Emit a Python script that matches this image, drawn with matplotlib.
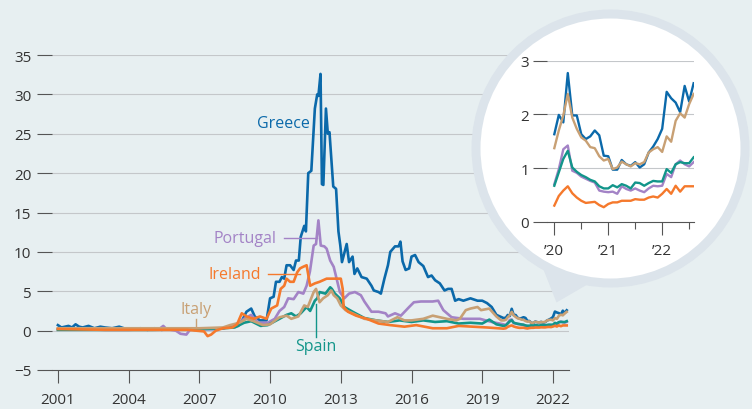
import matplotlib.pyplot as plt
from matplotlib.patches import Circle, Polygon

plt.rcParams['font.family'] = ['Open Sans', 'DejaVu Sans']

# spreads over Germany, percentage points (year, value) up to end 2019
greece = [(2001.0, 0.7), (2001.15, 0.4), (2001.3, 0.5), (2001.45, 0.6), (2001.6, 0.4), (2001.75, 0.8),
          (2001.9, 0.5), (2002.05, 0.4), (2002.3, 0.6), (2002.55, 0.3), (2002.8, 0.5), (2003.0, 0.4),
          (2003.3, 0.3), (2003.6, 0.5), (2003.9, 0.2), (2004.2, 0.2), (2004.5, 0.3), (2004.8, 0.1),
          (2005.1, 0.3), (2005.4, 0.1), (2005.7, 0.2), (2006.0, 0.1), (2006.4, 0.2), (2006.8, 0.1),
          (2007.2, 0.2), (2007.6, 0.2), (2008.0, 0.3), (2008.3, 0.5), (2008.65, 0.6), (2008.85, 1.5),
          (2009.0, 2.4), (2009.2, 2.8), (2009.35, 1.8), (2009.57, 1.3), (2009.85, 1.3), (2010.0, 4.1),
          (2010.15, 4.3), (2010.25, 6.2), (2010.4, 6.2), (2010.5, 6.8), (2010.6, 6.6), (2010.7, 8.3),
          (2010.85, 8.3), (2011.0, 7.7), (2011.1, 8.9), (2011.22, 8.9), (2011.3, 11.9), (2011.45, 13.3),
          (2011.52, 12.6), (2011.62, 20.0), (2011.75, 20.3), (2011.9, 28.2), (2012.0, 30.0), (2012.05, 29.8),
          (2012.14, 32.6), (2012.2, 18.6), (2012.26, 18.5), (2012.37, 28.2), (2012.45, 25.0), (2012.52, 25.2),
          (2012.68, 18.3), (2012.8, 18.0), (2012.9, 12.6), (2012.98, 10.8), (2013.05, 8.7), (2013.25, 11.0),
          (2013.35, 8.7), (2013.5, 9.4), (2013.58, 7.2), (2013.7, 7.9), (2013.88, 6.8), (2014.1, 6.6),
          (2014.3, 5.7), (2014.4, 5.1), (2014.6, 4.9), (2014.7, 4.7), (2014.85, 6.6), (2015.0, 8.3),
          (2015.1, 10.0), (2015.3, 10.7), (2015.45, 10.7), (2015.53, 11.3), (2015.62, 8.8), (2015.75, 7.7),
          (2015.9, 7.9), (2016.0, 9.4), (2016.15, 9.6), (2016.3, 8.7), (2016.5, 8.2), (2016.7, 6.8),
          (2016.85, 7.0), (2017.0, 6.4), (2017.2, 6.0), (2017.4, 5.1), (2017.55, 5.3), (2017.7, 5.3),
          (2017.85, 3.8), (2018.0, 4.0), (2018.2, 3.8), (2018.5, 4.1), (2018.8, 3.8), (2019.0, 3.8),
          (2019.2, 3.5), (2019.4, 3.0), (2019.6, 2.0), (2019.75, 1.8), (2019.9, 1.6)]
portugal = [(2001.0, 0.2), (2002.0, 0.2), (2003.0, 0.1), (2004.0, 0.1), (2005.0, 0.2), (2005.3, 0.2),
            (2005.47, 0.6), (2005.6, 0.2), (2006.0, 0.0), (2006.2, -0.4), (2006.45, -0.5), (2006.6, 0.1),
            (2007.0, 0.2), (2007.5, 0.2), (2008.0, 0.3), (2008.5, 0.6), (2008.9, 1.5), (2009.2, 2.0),
            (2009.5, 1.0), (2009.9, 1.0), (2010.2, 1.5), (2010.4, 2.5), (2010.6, 3.0), (2010.77, 4.1),
            (2011.0, 4.0), (2011.2, 4.9), (2011.41, 4.7), (2011.55, 5.7), (2011.69, 7.5), (2011.85, 10.8),
            (2011.95, 11.0), (2012.05, 14.0), (2012.15, 10.8), (2012.3, 10.7), (2012.4, 10.4), (2012.55, 8.9),
            (2012.7, 8.1), (2012.96, 4.9), (2013.15, 4.1), (2013.35, 4.7), (2013.6, 4.9), (2013.85, 4.5),
            (2014.0, 3.7), (2014.3, 2.4), (2014.6, 2.4), (2014.9, 2.2), (2015.0, 1.8), (2015.3, 2.2),
            (2015.55, 1.9), (2015.9, 3.0), (2016.1, 3.6), (2016.4, 3.7), (2016.9, 3.7), (2017.13, 3.8),
            (2017.35, 2.6), (2017.7, 1.7), (2018.2, 1.5), (2018.9, 1.5), (2019.4, 1.1), (2019.9, 0.8)]
ireland = [(2001.0, 0.2), (2003.0, 0.1), (2004.5, 0.1), (2005.5, 0.1), (2006.5, 0.1), (2007.2, -0.1),
           (2007.35, -0.7), (2007.5, -0.5), (2007.7, 0.0), (2008.0, 0.3), (2008.4, 0.4), (2008.6, 0.8),
           (2008.8, 2.2), (2009.0, 1.8), (2009.3, 1.5), (2009.57, 1.8), (2009.85, 1.5), (2010.05, 2.8),
           (2010.3, 3.2), (2010.45, 5.3), (2010.6, 5.7), (2010.7, 6.6), (2010.85, 6.2), (2011.0, 6.2),
           (2011.15, 7.4), (2011.27, 7.9), (2011.4, 8.1), (2011.55, 8.3), (2011.7, 5.7), (2011.9, 6.0),
           (2012.1, 6.2), (2012.4, 6.6), (2012.7, 6.6), (2013.0, 6.6), (2013.08, 5.3), (2013.12, 3.0),
           (2013.3, 2.4), (2013.65, 1.9), (2014.1, 1.5), (2014.6, 0.9), (2015.1, 0.7), (2015.7, 0.5),
           (2016.2, 0.7), (2016.9, 0.3), (2017.5, 0.3), (2018.0, 0.6), (2018.6, 0.5), (2019.2, 0.4),
           (2019.9, 0.25)]
italy = [(2001.0, 0.3), (2003.0, 0.3), (2005.0, 0.3), (2007.0, 0.3), (2008.0, 0.4), (2008.3, 0.7),
         (2008.7, 1.0), (2009.0, 1.5), (2009.3, 1.2), (2009.7, 0.7), (2010.0, 0.8), (2010.4, 1.7),
         (2010.7, 1.9), (2010.9, 1.5), (2011.2, 1.8), (2011.45, 3.2), (2011.6, 3.0), (2011.85, 4.9),
         (2011.95, 5.3), (2012.1, 3.6), (2012.25, 4.1), (2012.45, 4.5), (2012.6, 5.1), (2012.7, 4.5),
         (2012.85, 4.1), (2013.0, 3.2), (2013.2, 2.6), (2013.5, 2.2), (2014.0, 1.5), (2014.5, 1.3),
         (2015.0, 1.1), (2015.4, 1.7), (2015.7, 1.3), (2016.0, 1.3), (2016.5, 1.5), (2016.9, 1.9),
         (2017.5, 1.5), (2017.9, 1.3), (2018.05, 1.5), (2018.3, 2.6), (2018.5, 2.8), (2018.8, 3.0),
         (2018.95, 2.6), (2019.3, 2.8), (2019.6, 1.8), (2019.8, 1.3), (2019.92, 1.3)]
spain = [(2001.0, 0.1), (2003.0, 0.1), (2005.0, 0.1), (2007.0, 0.2), (2008.0, 0.3), (2008.5, 0.4),
         (2008.9, 1.0), (2009.2, 1.2), (2009.6, 0.6), (2009.9, 0.7), (2010.4, 1.5), (2010.7, 2.0),
         (2010.9, 2.2), (2011.1, 1.8), (2011.3, 2.2), (2011.55, 3.0), (2011.7, 2.5), (2011.9, 3.8),
         (2012.0, 4.1), (2012.1, 4.9), (2012.35, 4.7), (2012.55, 5.5), (2012.62, 5.3), (2012.75, 4.7),
         (2012.96, 4.1), (2013.15, 3.0), (2013.5, 2.4), (2014.0, 1.6), (2014.5, 1.3), (2015.0, 1.1),
         (2015.5, 1.3), (2016.0, 1.1), (2016.5, 1.3), (2017.0, 1.1), (2017.5, 1.2), (2018.0, 0.9),
         (2018.5, 1.0), (2019.0, 0.9), (2019.3, 1.4), (2019.6, 0.8), (2019.9, 0.6)]

# monthly values Jan 2020 - Aug 2022 (inset, also end of main chart)
greece_m = [1.63, 1.99, 1.85, 2.77, 1.98, 1.98, 1.63, 1.54, 1.59, 1.70, 1.61, 1.23, 1.22, 0.97, 0.97, 1.15,
            1.07, 1.04, 1.11, 1.01, 1.07, 1.29, 1.40, 1.54, 1.73, 2.42, 2.30, 2.22, 2.04, 2.53, 2.24, 2.58]
italy_m = [1.37, 1.70, 1.98, 2.38, 1.94, 1.73, 1.57, 1.51, 1.39, 1.37, 1.22, 1.14, 1.17, 0.98, 1.01, 1.12,
           1.07, 1.03, 1.09, 1.07, 1.11, 1.29, 1.35, 1.39, 1.30, 1.59, 1.49, 1.88, 2.02, 1.94, 2.19, 2.38]
portugal_m = [0.70, 0.98, 1.35, 1.42, 0.95, 0.91, 0.84, 0.80, 0.76, 0.73, 0.58, 0.56, 0.55, 0.56, 0.52, 0.66,
              0.61, 0.58, 0.62, 0.58, 0.55, 0.62, 0.67, 0.66, 0.67, 0.89, 0.83, 1.07, 1.14, 1.07, 1.03, 1.11]
spain_m = [0.67, 0.92, 1.17, 1.32, 1.01, 0.93, 0.87, 0.83, 0.78, 0.75, 0.66, 0.62, 0.62, 0.68, 0.64, 0.70,
           0.67, 0.62, 0.73, 0.72, 0.67, 0.72, 0.76, 0.75, 0.75, 0.98, 0.91, 1.07, 1.11, 1.09, 1.09, 1.20]
ireland_m = [0.30, 0.48, 0.58, 0.66, 0.53, 0.45, 0.39, 0.35, 0.36, 0.37, 0.31, 0.27, 0.33, 0.36, 0.36, 0.39,
             0.39, 0.39, 0.42, 0.41, 0.41, 0.45, 0.47, 0.45, 0.52, 0.61, 0.52, 0.67, 0.56, 0.66, 0.66, 0.66]
months = [2020 + i / 12 for i in range(len(greece_m))]

main_years = [2001, 2004, 2007, 2010, 2013, 2016, 2019, 2022]
inset_years = [2020, 2021, 2022]
inset_labels = ['\u201920', '\u201921', '\u201922']

c_gr = '#0b69aa'
c_pt = '#a383c6'
c_ie = '#f5792c'
c_it = '#c8a074'
c_es = '#12958a'
bg = '#e7eff1'
ring = '#dce4eb'
grid = '#c4c7ca'
dark = '#555555'

W, H = 752, 410
fig = plt.figure(figsize=(W / 100, H / 100), dpi=100, facecolor=bg)


def px(x0, y0, x1, y1):
    return [x0 / W, 1 - y1 / H, (x1 - x0) / W, (y1 - y0) / H]


# main chart
ax = fig.add_axes(px(52, 56, 569, 371), zorder=0)
ax.set_facecolor(bg)
series = [(greece, greece_m, c_gr), (portugal, portugal_m, c_pt), (spain, spain_m, c_es),
          (italy, italy_m, c_it), (ireland, ireland_m, c_ie)]
for early, monthly, col in series:
    t = [p[0] for p in early] + months
    v = [p[1] for p in early] + monthly
    ax.plot(t, v, color=col, lw=1.9, solid_joinstyle='round')

ax.set_xlim(2000.75, 2022.68)
ax.set_ylim(-5, 35)
ax.set_yticks(range(-5, 36, 5))
ax.set_xticks(main_years)
for y in range(0, 36, 5):
    ax.axhline(y, color=grid, lw=0.8, zorder=0)
for s in ['top', 'right', 'left']:
    ax.spines[s].set_visible(False)
ax.spines['bottom'].set_position(('data', -5))
ax.spines['bottom'].set_color(dark)
ax.spines['bottom'].set_linewidth(0.8)
ax.tick_params(axis='y', length=11, width=0.8, color=dark, pad=4, labelsize=11, labelcolor='#333333')
ax.tick_params(axis='x', length=9.5, width=0.8, color=dark, pad=6, labelsize=11, labelcolor='#333333')

ax.text(2010.55, 26.4, 'Greece', color=c_gr, fontsize=11.5, ha='center', va='center')
ax.text(2010.29, 11.7, 'Portugal', color=c_pt, fontsize=11.5, ha='right', va='center')
ax.plot([2010.6, 2012.0], [11.7, 11.7], color=c_pt, lw=1)
ax.text(2009.61, 7.2, 'Ireland', color=c_ie, fontsize=11.5, ha='right', va='center')
ax.plot([2009.9, 2011.25], [7.2, 7.2], color=c_ie, lw=1)
ax.text(2006.85, 2.8, 'Italy', color=c_it, fontsize=11.5, ha='center', va='center')
ax.plot([2006.85, 2006.85], [1.5, 0.5], color=c_it, lw=1)
ax.text(2011.95, -1.9, 'Spain', color=c_es, fontsize=11.5, ha='center', va='center')
ax.plot([2011.95, 2011.95], [-0.8, 3.4], color=c_es, lw=1)

# bubble behind the inset
ov = fig.add_axes([0, 0, 1, 1], zorder=1)
ov.set_xlim(0, W)
ov.set_ylim(H, 0)
ov.axis('off')
ov.add_patch(Polygon([(540, 262), (556.5, 303.5), (590, 284)], closed=True, color=ring, lw=0))
ov.add_patch(Circle((610.5, 149.5), 139, color=ring, lw=0))
ov.add_patch(Circle((610.5, 149.5), 130, color='white', lw=0))

# inset
ins = fig.add_axes(px(547.3, 61.7, 694, 222.7), zorder=2)
ins.patch.set_visible(False)
for name, col in [('greece', c_gr), ('portugal', c_pt), ('spain', c_es), ('italy', c_it), ('ireland', c_ie)]:
    ins.plot(months, globals()[name + '_m'], color=col, lw=1.7, solid_joinstyle='round')
ins.set_xlim(2019.87, 2022.59)
ins.set_ylim(0, 3)
ins.set_yticks([0, 1, 2, 3])
ins.set_xticks(inset_years)
ins.set_xticklabels(inset_labels)
ins.set_xticks([2020.5, 2021.5, 2022.5], minor=True)
for y in [1, 2, 3]:
    ins.axhline(y, color=grid, lw=0.8, zorder=0)
for s in ['top', 'right', 'left']:
    ins.spines[s].set_visible(False)
ins.spines['bottom'].set_color(dark)
ins.spines['bottom'].set_linewidth(0.8)
ins.tick_params(axis='y', length=10, width=0.8, color=dark, pad=3, labelsize=11, labelcolor='#333333')
ins.tick_params(axis='x', which='major', length=9, width=0.8, color=dark, pad=6, labelsize=11,
                labelcolor='#333333')
ins.tick_params(axis='x', which='minor', length=5, width=0.8, color=dark)

fig.savefig('out.png', dpi=100, facecolor=bg)
